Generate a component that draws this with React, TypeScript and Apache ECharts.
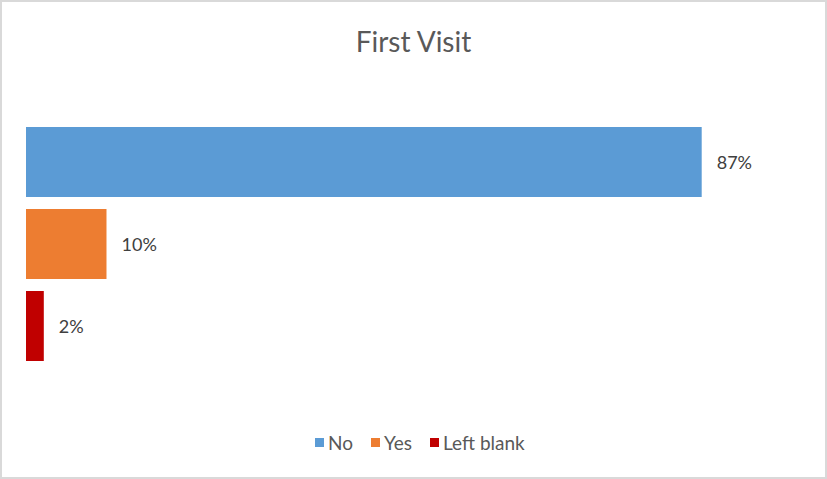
import React, { useEffect, useRef } from "react";
import * as echarts from "echarts";

const seriesNames = ["No", "Yes", "Left blank"];
const seriesValues = [87.3, 10.4, 2.3];
const seriesColors = ["#5B9BD5", "#ED7D31", "#C00000"];
const categories = ["First Visit"];
const titleText = "First Visit";

export default function App() {
  const ref = useRef<HTMLDivElement>(null);
  useEffect(() => {
    if (!ref.current) return;
    const chart = echarts.init(ref.current, undefined, { renderer: "svg" });
    const font = "Lato, 'Open Sans', sans-serif";
    chart.setOption({
      animation: false,
      backgroundColor: "transparent",
      title: {
        text: titleText,
        left: "center",
        top: 22,
        textStyle: { fontFamily: font, fontSize: 28, fontWeight: "normal", color: "#595959" },
      },
      legend: {
        bottom: 22,
        left: 310,
        itemWidth: 9,
        itemHeight: 9,
        itemGap: 18,
        icon: "rect",
        data: seriesNames,
        textStyle: { fontFamily: font, fontSize: 19, color: "#595959", padding: [0, 0, 0, -1] },
      },
      grid: { left: 26, right: 27, top: 96, bottom: 87, containLabel: false },
      xAxis: {
        type: "value",
        min: 0,
        max: 100,
        show: false,
        splitLine: { show: false },
      },
      yAxis: {
        type: "category",
        data: categories,
        inverse: true,
        axisLine: { show: false },
        axisTick: { show: false },
        axisLabel: { show: false },
      },
      series: seriesNames.map((name, i) => ({
        name,
        type: "bar",
        data: [seriesValues[i]],
        barWidth: 70,
        barGap: "17%",
        itemStyle: { color: seriesColors[i] },
        label: {
          show: true,
          position: "right",
          distance: 15,
          fontFamily: font,
          fontSize: 18,
          color: "#404040",
          formatter: (p: any) => Math.round(p.value) + "%",
        },
      })),
    });
    return () => chart.dispose();
  }, []);
  return (
    <div
      style={{
        position: "absolute",
        left: 0,
        top: 0,
        width: 827,
        height: 479,
        boxSizing: "border-box",
        border: "2px solid #D9D9D9",
        background: "#fff",
      }}
    >
      <div ref={ref} style={{ position: "absolute", left: -2, top: -2, width: 827, height: 479 }} />
    </div>
  );
}
